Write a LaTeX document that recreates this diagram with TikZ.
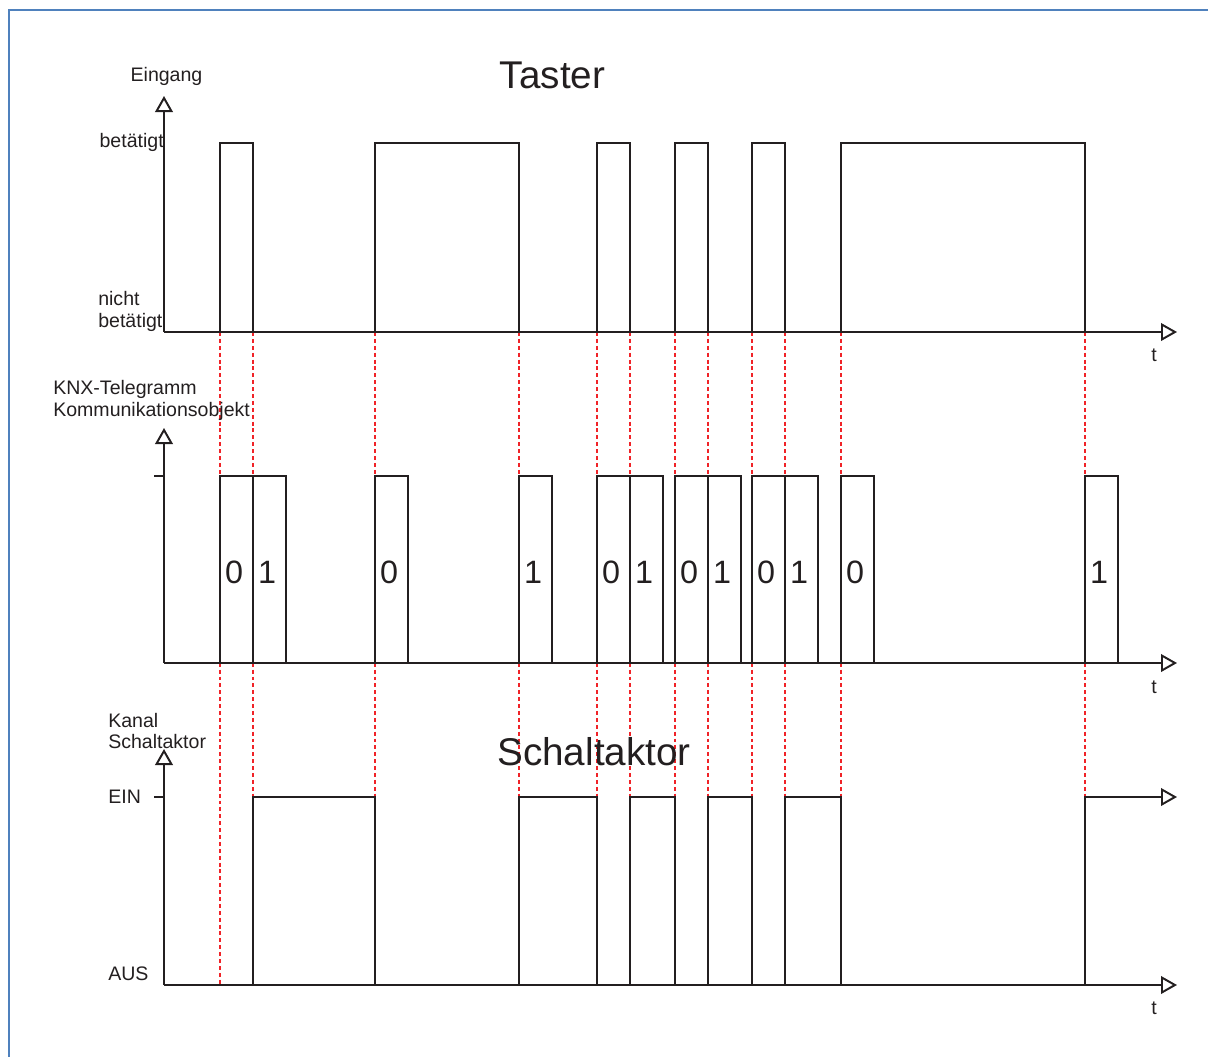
\documentclass[tikz,border=0pt]{standalone}
\usepackage{fontspec}
\setmainfont{Liberation Sans}
\usetikzlibrary{arrows.meta}

\definecolor{frameblue}{RGB}{79,129,189}
\definecolor{edgered}{RGB}{240,35,40}
\definecolor{ink}{RGB}{35,31,32}

\begin{document}
\begin{tikzpicture}[x=0.025cm, y=-0.025cm,
		signal/.style={ink, line width=1.4pt},
		timeaxis/.style={signal, -{Triangle[open, length=0.4cm, width=0.44cm]}},
		edgeline/.style={edgered, line width=1.2pt, dash pattern=on 2.8pt off 2.1pt},
		axtext/.style={ink, inner sep=0pt, font=\fontsize{13.9}{15.6}\selectfont},
		heading/.style={ink, inner sep=0pt, font=\fontsize{27.5}{30}\selectfont},
		bit/.style={ink, inner sep=0pt, font=\fontsize{23}{26}\selectfont}]
		\useasboundingbox (0,0) rectangle (1208,1057);

		\coordinate (T0) at (164, 332);
		\coordinate (K0) at (164, 663);
		\coordinate (S0) at (164, 985);

		% frame
		\draw[frameblue, line width=1.5pt] (9, 1057) -- (9, 10) -- (1208, 10);

		% red edges
		\draw[edgeline] (220, 332) -- (220, 985) (253, 332) -- (253, 985)
			(375, 332) -- (375, 985) (519, 332) -- (519, 985)
			(597, 332) -- (597, 985) (630, 332) -- (630, 985)
			(675, 332) -- (675, 985) (708, 332) -- (708, 985)
			(752, 332) -- (752, 985) (785, 332) -- (785, 985)
			(841, 332) -- (841, 985) (1085, 332) -- (1085, 985);

		% Taster
		\draw[timeaxis] (T0) -- (164, 96);
		\draw[timeaxis] (T0) -- (1177, 332);
		\draw[signal] (220, 332) -- (220, 143) -- (253, 143) -- (253, 332)
			(375, 332) -- (375, 143) -- (519, 143) -- (519, 332)
			(597, 332) -- (597, 143) -- (630, 143) -- (630, 332)
			(675, 332) -- (675, 143) -- (708, 143) -- (708, 332)
			(752, 332) -- (752, 143) -- (785, 143) -- (785, 332)
			(841, 332) -- (841, 143) -- (1085, 143) -- (1085, 332);
		\node[axtext, anchor=base] (eingang) at (166.5, 82) {Eingang};
		\node[heading, anchor=base] (taster) at (552.5, 89) {Taster};
		\node[axtext, anchor=base east] (bet) at (164, 148) {betätigt};
		\node[axtext, anchor=west, align=left] (nichtbet) at (98, 311) {nicht\\betätigt};
		\node[axtext, anchor=base] (t1) at (1154, 361) {t};

		% KNX telegrams
		\draw[timeaxis] (K0) -- (164, 428);
		\draw[timeaxis] (K0) -- (1177, 663);
		\draw[signal] (154, 476) -- (164, 476);
		\draw[signal] (220, 476) rectangle (253, 663) (253, 476) rectangle (286, 663)
			(375, 476) rectangle (408, 663) (519, 476) rectangle (552, 663)
			(597, 476) rectangle (630, 663) (630, 476) rectangle (663, 663)
			(675, 476) rectangle (708, 663) (708, 476) rectangle (741, 663)
			(752, 476) rectangle (785, 663) (785, 476) rectangle (818, 663)
			(841, 476) rectangle (874, 663) (1085, 476) rectangle (1118, 663);
		\node[bit, anchor=base] (b1) at (234, 583) {0};
		\node[bit, anchor=base] (b2) at (267, 583) {1};
		\node[bit, anchor=base] (b3) at (389, 583) {0};
		\node[bit, anchor=base] (b4) at (533, 583) {1};
		\node[bit, anchor=base] (b5) at (611, 583) {0};
		\node[bit, anchor=base] (b6) at (644, 583) {1};
		\node[bit, anchor=base] (b7) at (689, 583) {0};
		\node[bit, anchor=base] (b8) at (722, 583) {1};
		\node[bit, anchor=base] (b9) at (766, 583) {0};
		\node[bit, anchor=base] (b10) at (799, 583) {1};
		\node[bit, anchor=base] (b11) at (855, 583) {0};
		\node[bit, anchor=base] (b12) at (1099, 583) {1};
		\node[axtext, anchor=west, align=left] (knx) at (53, 400) {KNX-Telegramm\\Kommunikationsobjekt};
		\node[axtext, anchor=base] (t2) at (1154, 693) {t};

		% Schaltaktor
		\draw[timeaxis] (S0) -- (164, 749);
		\draw[timeaxis] (S0) -- (1177, 985);
		\draw[signal] (154, 797) -- (164, 797);
		\draw[signal] (253, 985) -- (253, 797) -- (375, 797) -- (375, 985)
			(519, 985) -- (519, 797) -- (597, 797) -- (597, 985)
			(630, 985) -- (630, 797) -- (675, 797) -- (675, 985)
			(708, 985) -- (708, 797) -- (752, 797) -- (752, 985)
			(785, 985) -- (785, 797) -- (841, 797) -- (841, 985);
		\draw[timeaxis] (1085, 985) -- (1085, 797) -- (1177, 797);
		\node[axtext, anchor=west, align=left] (kanal) at (108, 731) {Kanal\\Schaltaktor};
		\node[heading, anchor=base] (aktor) at (594, 765) {Schaltaktor};
		\node[axtext, anchor=west] (ein) at (108, 797) {EIN};
		\node[axtext, anchor=west] (aus) at (108, 974) {AUS};
		\node[axtext, anchor=base] (t3) at (1154, 1014) {t};
	\end{tikzpicture}
\end{document}
